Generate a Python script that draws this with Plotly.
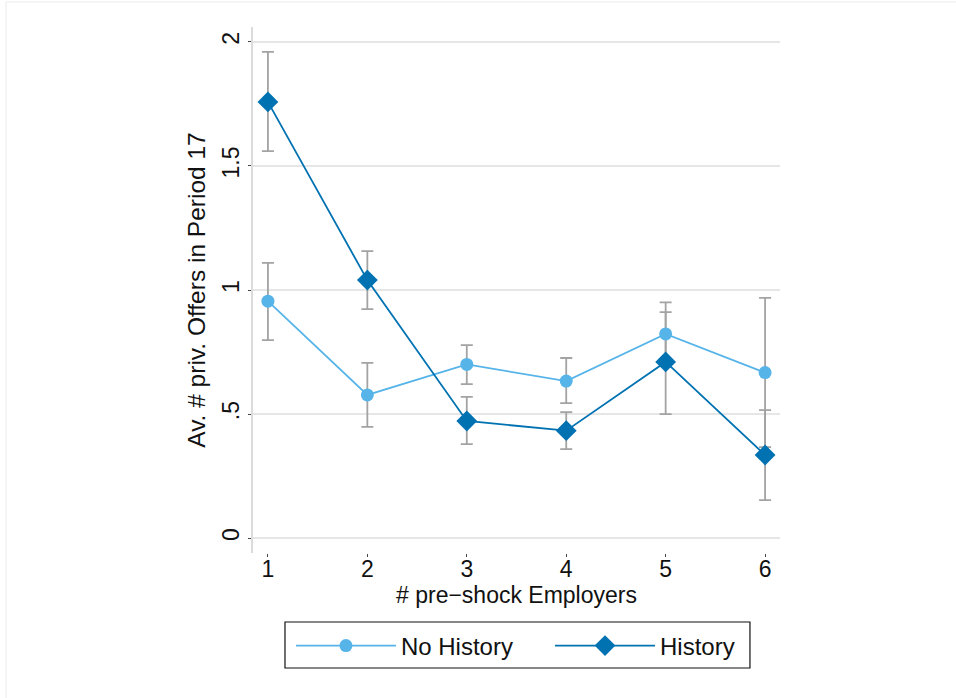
import plotly.graph_objects as go

employers = [1, 2, 3, 4, 5, 6]

no_hist_mean = [0.955, 0.577, 0.700, 0.633, 0.823, 0.667]
no_hist_hi = [1.109, 0.706, 0.778, 0.726, 0.950, 0.968]
no_hist_lo = [0.798, 0.448, 0.621, 0.544, 0.697, 0.367]

hist_mean = [1.758, 1.040, 0.472, 0.433, 0.710, 0.335]
hist_hi = [1.960, 1.157, 0.569, 0.508, 0.911, 0.516]
hist_lo = [1.560, 0.923, 0.379, 0.359, 0.500, 0.153]

y_ticks = [0, 0.5, 1, 1.5, 2]
y_tick_labels = ["0", ".5", "1", "1.5", "2"]

LIGHT = "#56B4E9"
DARK = "#0072B2"
GRAY = "#A3A3A3"
FONT = "Liberation Sans, Arial, sans-serif"


def err(mean, hi, lo):
    return dict(
        type="data",
        symmetric=False,
        array=[h - m for h, m in zip(hi, mean)],
        arrayminus=[m - l for m, l in zip(mean, lo)],
        color=GRAY,
        thickness=1.8,
        width=6,
    )


fig = go.Figure()
# error bars drawn first (beneath the lines/markers)
fig.add_trace(go.Scatter(x=employers, y=no_hist_mean, mode="markers",
                         marker=dict(size=1, opacity=0), error_y=err(no_hist_mean, no_hist_hi, no_hist_lo),
                         showlegend=False, hoverinfo="skip"))
fig.add_trace(go.Scatter(x=employers, y=hist_mean, mode="markers",
                         marker=dict(size=1, opacity=0), error_y=err(hist_mean, hist_hi, hist_lo),
                         showlegend=False, hoverinfo="skip"))
fig.add_trace(go.Scatter(x=employers, y=no_hist_mean, mode="lines+markers", name="No History",
                         line=dict(color=LIGHT, width=1.8), legend="legend",
                         marker=dict(symbol="circle", size=13, color=LIGHT)))
fig.add_trace(go.Scatter(x=employers, y=hist_mean, mode="lines+markers", name="History",
                         line=dict(color=DARK, width=1.8), legend="legend2",
                         marker=dict(symbol="diamond", size=16, color=DARK)))

leg_common = dict(
    orientation="h", y=-0.134, yanchor="top", xanchor="left",
    borderwidth=0, bgcolor="rgba(0,0,0,0)",
    font=dict(family=FONT, size=24, color="#111111"),
    itemwidth=100,
)

fig.update_layout(
    width=956, height=698,
    margin=dict(l=253, r=176, t=27, b=145, autoexpand=False),
    paper_bgcolor="white", plot_bgcolor="white",
    font=dict(family=FONT, size=22, color="#111111"),
    showlegend=True,
    legend=dict(x=0.072, **leg_common),
    legend2=dict(x=0.5636, **leg_common),
    shapes=[
        dict(type="rect", xref="paper", yref="paper",
             x0=-0.4687, x1=1.3416, y0=-0.279, y1=1.0475,
             line=dict(color="#EBEBEB", width=1), layer="below"),
        # legend frame
        dict(type="rect", xref="paper", yref="paper",
             x0=0.0607, x1=0.943, y0=-0.2186, y1=-0.1312,
             line=dict(color="#111111", width=1.2), layer="above"),
    ],
)

fig.update_xaxes(
    range=[0.85, 6.15], tickvals=employers, ticktext=[str(v) for v in employers],
    showgrid=False, zeroline=False, showline=False,
    ticks="outside", ticklen=3, tickcolor="#444444", tickwidth=1,
    tickfont=dict(size=23), ticklabelstandoff=-8,
    title=dict(text="# pre\u2212shock Employers", font=dict(size=23), standoff=4),
)
fig.update_yaxes(
    range=[-0.06, 2.06], tickvals=y_ticks, ticktext=y_tick_labels,
    showgrid=True, gridcolor="#E6E6E6", gridwidth=1.8,
    zeroline=False, showline=True, linecolor="#DCDCDC", linewidth=1.5,
    ticks="outside", ticklen=3, tickcolor="#444444", tickwidth=1,
    tickangle=-90, tickfont=dict(size=23),
    title=dict(text="Av. # priv. Offers in Period 17", font=dict(size=24.5), standoff=5),
)

fig.write_html("out.html")
